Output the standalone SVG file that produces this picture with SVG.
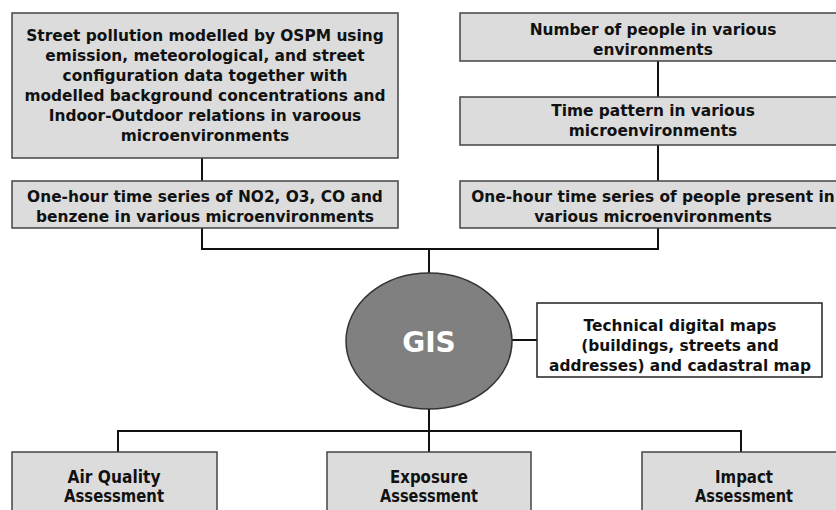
<svg xmlns="http://www.w3.org/2000/svg" width="836" height="510" viewBox="0 0 836 510">
  <style>
    .box { fill: #dcdcdc; stroke: #444; stroke-width: 1.5; }
    .plain { fill: #ffffff; stroke: #222; stroke-width: 1.5; }
    .lbl { font-family: "DejaVu Sans", "Liberation Sans", sans-serif; font-weight: bold; font-size: 15.4px; fill: #111; text-anchor: middle; }
    .big { font-family: "DejaVu Sans", "Liberation Sans", sans-serif; font-weight: bold; font-size: 18.5px; fill: #111; text-anchor: middle; }
    .gis { font-family: "DejaVu Sans", "Liberation Sans", sans-serif; font-weight: bold; font-size: 28px; fill: #ffffff; text-anchor: middle; }
    .wire { fill: none; stroke: #111; stroke-width: 2; }
  </style>
  <rect width="836" height="510" fill="#ffffff"/>

  <!-- connectors -->
  <g id="connectors">
    <line class="wire" x1="202" y1="158" x2="202" y2="181"/>
    <line class="wire" x1="658" y1="61" x2="658" y2="97"/>
    <line class="wire" x1="658" y1="145" x2="658" y2="181"/>
    <polyline class="wire" points="202,228 202,249 658,249 658,228"/>
    <line class="wire" x1="429" y1="249" x2="429" y2="273"/>
    <line class="wire" x1="512" y1="340" x2="537" y2="340"/>
    <line class="wire" x1="429" y1="409" x2="429" y2="452"/>
    <polyline class="wire" points="118,452 118,431 741,431 741,452"/>
  </g>

  <!-- sources, left column -->
  <g id="street-pollution">
    <rect class="box" x="12" y="13" width="386" height="145"/>
    <text class="lbl" x="205" y="41">Street pollution modelled by OSPM using</text>
    <text class="lbl" x="205" y="61">emission,  meteorological, and street</text>
    <text class="lbl" x="205" y="81">configuration data together with</text>
    <text class="lbl" x="205" y="101">modelled background concentrations and</text>
    <text class="lbl" x="205" y="121">Indoor-Outdoor relations in varoous</text>
    <text class="lbl" x="205" y="141">microenvironments</text>
  </g>
  <g id="pollutant-series">
    <rect class="box" x="12" y="181" width="386" height="47"/>
    <text class="lbl" x="205" y="202">One-hour time series of NO2, O3, CO and</text>
    <text class="lbl" x="205" y="222">benzene in various microenvironments</text>
  </g>

  <!-- sources, right column -->
  <g id="people-count">
    <rect class="box" x="460" y="13" width="386" height="48"/>
    <text class="lbl" x="653" y="35">Number of people in various</text>
    <text class="lbl" x="653" y="55">environments</text>
  </g>
  <g id="time-pattern">
    <rect class="box" x="460" y="97" width="386" height="48"/>
    <text class="lbl" x="653" y="116">Time pattern in various</text>
    <text class="lbl" x="653" y="136">microenvironments</text>
  </g>
  <g id="people-series">
    <rect class="box" x="460" y="181" width="386" height="47"/>
    <text class="lbl" x="653" y="202">One-hour time series of people present in</text>
    <text class="lbl" x="653" y="222">various microenvironments</text>
  </g>

  <!-- central GIS node -->
  <g id="gis">
    <ellipse cx="429" cy="341" rx="83" ry="68" fill="#808080" stroke="#333" stroke-width="1.5"/>
    <text class="gis" x="429" y="352">GIS</text>
  </g>
  <g id="digital-maps">
    <rect class="plain" x="537" y="303" width="285" height="74"/>
    <text class="lbl" x="680" y="331">Technical digital maps</text>
    <text class="lbl" x="680" y="351">(buildings, streets and</text>
    <text class="lbl" x="680" y="371">addresses) and cadastral map</text>
  </g>

  <!-- outputs -->
  <g id="air-quality">
    <rect class="box" x="12" y="452" width="205" height="70"/>
    <text class="big" x="114" y="483" textLength="93" lengthAdjust="spacingAndGlyphs">Air Quality</text>
    <text class="big" x="114" y="502" textLength="100" lengthAdjust="spacingAndGlyphs">Assessment</text>
  </g>
  <g id="exposure">
    <rect class="box" x="327" y="452" width="204" height="70"/>
    <text class="big" x="429" y="483" textLength="78" lengthAdjust="spacingAndGlyphs">Exposure</text>
    <text class="big" x="429" y="502" textLength="98" lengthAdjust="spacingAndGlyphs">Assessment</text>
  </g>
  <g id="impact">
    <rect class="box" x="642" y="452" width="204" height="70"/>
    <text class="big" x="744" y="483" textLength="58" lengthAdjust="spacingAndGlyphs">Impact</text>
    <text class="big" x="744" y="502" textLength="98" lengthAdjust="spacingAndGlyphs">Assessment</text>
  </g>
</svg>
